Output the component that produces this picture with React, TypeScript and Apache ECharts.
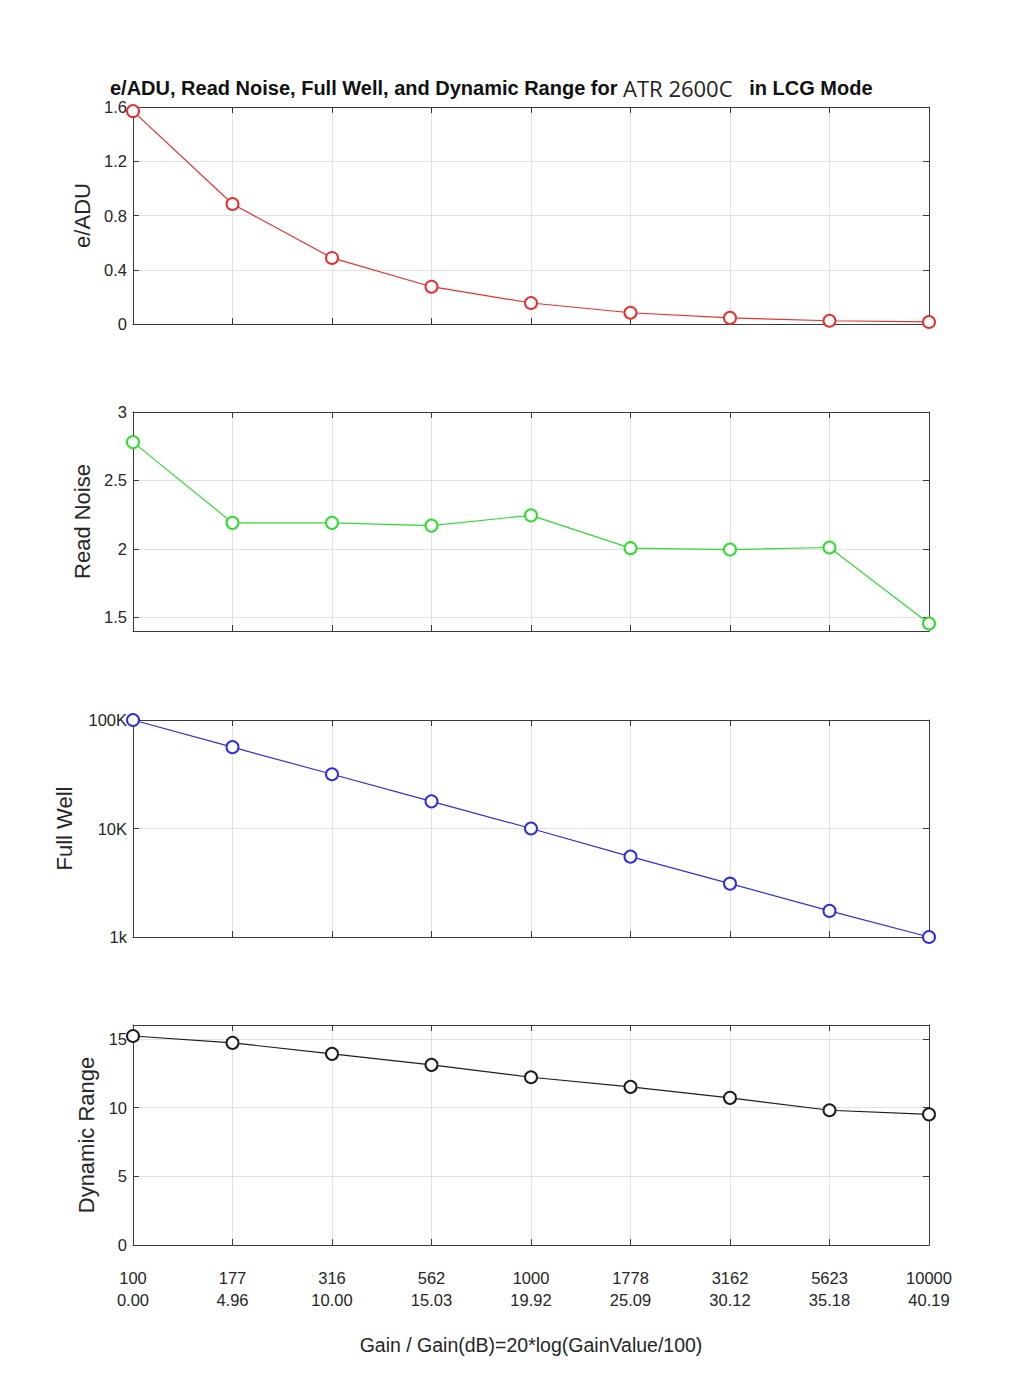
import React, { useEffect, useRef } from "react";
import * as echarts from "echarts";

const gainLabels = ["100", "177", "316", "562", "1000", "1778", "3162", "5623", "10000"];
const gainDb = ["0.00", "4.96", "10.00", "15.03", "19.92", "25.09", "30.12", "35.18", "40.19"];

const eADU = [1.57, 0.885, 0.487, 0.275, 0.155, 0.083, 0.045, 0.024, 0.015];
const readNoise = [2.78, 2.19, 2.19, 2.17, 2.245, 2.005, 1.995, 2.01, 1.455];
const fullWell = [100000, 56200, 31600, 17800, 10000, 5500, 3100, 1740, 1000];
const dynamicRange = [15.2, 14.7, 13.9, 13.1, 12.2, 11.5, 10.7, 9.8, 9.5];

const readNoiseTicks = [1.5, 2, 2.5, 3];
const dynamicRangeTicks = [0, 5, 10, 15];

const FONT = "'Liberation Sans', Arial, Helvetica, sans-serif";
const AXIS_COLOR = "#3a3a3a";
const GRID_COLOR = "#e2e2e2";
const TEXT_COLOR = "#262626";

export default function App() {
  const ref = useRef<HTMLDivElement>(null);

  useEffect(() => {
    if (!ref.current) return;
    const chart = echarts.init(ref.current, undefined, { renderer: "svg" });

    const grids = [
      { top: 107, height: 217 },
      { top: 412, height: 219 },
      { top: 720, height: 217 },
      { top: 1025, height: 220 },
    ].map((g) => ({ left: 133, right: 95, top: g.top, height: g.height, containLabel: false }));

    const lineStyle = { color: AXIS_COLOR, width: 1 };

    const xAxes: any[] = [];
    grids.forEach((_, i) => {
      xAxes.push({
        type: "category",
        gridIndex: i,
        data: gainLabels,
        boundaryGap: false,
        position: "bottom",
        axisLine: { show: true, lineStyle, onZero: false },
        axisTick: { show: true, inside: true, length: 6, interval: 0, lineStyle },
        splitLine: { show: true, interval: 0, lineStyle: { color: GRID_COLOR, width: 1 } },
        axisLabel:
          i === 3
            ? {
                show: true,
                interval: 0,
                margin: 22,
                color: TEXT_COLOR,
                fontFamily: FONT,
                fontSize: 16.5,
                lineHeight: 22,
                formatter: (v: string, idx: number) => `${v}\n${gainDb[idx]}`,
              }
            : { show: false },
      });
      xAxes.push({
        type: "category",
        gridIndex: i,
        data: gainLabels,
        boundaryGap: false,
        position: "top",
        axisLine: { show: true, lineStyle, onZero: false },
        axisTick: { show: true, inside: true, length: 6, interval: 0, lineStyle },
        splitLine: { show: false },
        axisLabel: { show: false },
      });
    });

    const labelBase = { color: TEXT_COLOR, fontFamily: FONT, fontSize: 16.5, margin: 6 };
    const nameBase = { color: TEXT_COLOR, fontFamily: FONT, fontSize: 22 };

    const yDefs: any[] = [
      { name: "e/ADU", nameGap: 40, type: "value", min: 0, max: 1.6, interval: 0.4 },
      {
        name: "Read Noise",
        nameGap: 40,
        type: "value",
        min: 1.4,
        max: 3,
        custom: readNoiseTicks,
        fmt: (v: number) => String(v),
      },
      {
        name: "Full Well",
        nameGap: 58,
        type: "log",
        logBase: 10,
        min: 1000,
        max: 100000,
        fmt: (v: number) => (v >= 99999 ? "100K" : v >= 9999 ? "10K" : "1k"),
      },
      {
        name: "Dynamic Range",
        nameGap: 35,
        type: "value",
        min: 0,
        max: 16,
        custom: dynamicRangeTicks,
      },
    ];

    const yAxes: any[] = [];
    yDefs.forEach((d, i) => {
      const scale: any = { type: d.type, min: d.min, max: d.max };
      if (d.interval) scale.interval = d.interval;
      if (d.logBase) scale.logBase = d.logBase;
      const tick: any = { show: true, inside: true, length: 6, lineStyle };
      const label: any = { ...labelBase, show: true };
      if (d.custom) {
        tick.customValues = d.custom;
        label.customValues = d.custom;
      }
      if (d.fmt) label.formatter = d.fmt;
      yAxes.push({
        ...scale,
        gridIndex: i,
        position: "left",
        name: d.name,
        nameLocation: "middle",
        nameGap: d.nameGap,
        nameTextStyle: nameBase,
        axisLine: { show: true, lineStyle, onZero: false },
        axisTick: tick,
        axisLabel: label,
        splitLine: { show: true, lineStyle: { color: GRID_COLOR, width: 1 } },
      });
      const tick2: any = { show: true, inside: true, length: 6, lineStyle };
      if (d.custom) tick2.customValues = d.custom;
      yAxes.push({
        ...scale,
        gridIndex: i,
        position: "right",
        axisLine: { show: true, lineStyle, onZero: false },
        axisTick: tick2,
        axisLabel: { show: false },
        splitLine: { show: false },
      });
    });

    const mk = (data: number[], idx: number, color: string) => ({
      type: "line",
      xAxisIndex: idx * 2,
      yAxisIndex: idx * 2,
      data,
      symbol: "emptyCircle",
      symbolSize: 12,
      showSymbol: true,
      lineStyle: { color, width: 1.2 },
      itemStyle: { color, borderColor: color, borderWidth: 1.1 },
      emphasis: { disabled: true },
      z: 5,
    });

    chart.setOption({
      animation: false,
      backgroundColor: "#ffffff",
      grid: grids,
      xAxis: xAxes,
      yAxis: yAxes,
      series: [
        mk(eADU, 0, "#e8302f"),
        mk(readNoise, 1, "#2fdc2f"),
        mk(fullWell, 2, "#2f2fe0"),
        mk(dynamicRange, 3, "#1e1e1e"),
      ],
      graphic: [
        {
          type: "text",
          left: 110,
          top: 77,
          style: {
            text: "{b|e/ADU, Read Noise, Full Well, and Dynamic Range for }{n|ATR 2600C}{b|   in LCG Mode}",
            rich: {
              b: { fontFamily: FONT, fontWeight: "bold", fontSize: 20, fill: "#111" },
              n: { fontFamily: "'Open Sans', 'Noto Sans', sans-serif", fontWeight: "normal", fontSize: 22, fill: "#222" },
            },
          },
        },
        {
          type: "text",
          x: 531,
          y: 1345,
          style: {
            text: "Gain / Gain(dB)=20*log(GainValue/100)",
            fontFamily: FONT,
            fontSize: 19.5,
            fill: TEXT_COLOR,
            textAlign: "center",
            textVerticalAlign: "middle",
          },
        },
      ],
    });

    return () => chart.dispose();
  }, []);

  return (
    <div
      ref={ref}
      style={{ position: "absolute", left: 0, top: 0, width: 1024, height: 1387, background: "#fff" }}
    />
  );
}
